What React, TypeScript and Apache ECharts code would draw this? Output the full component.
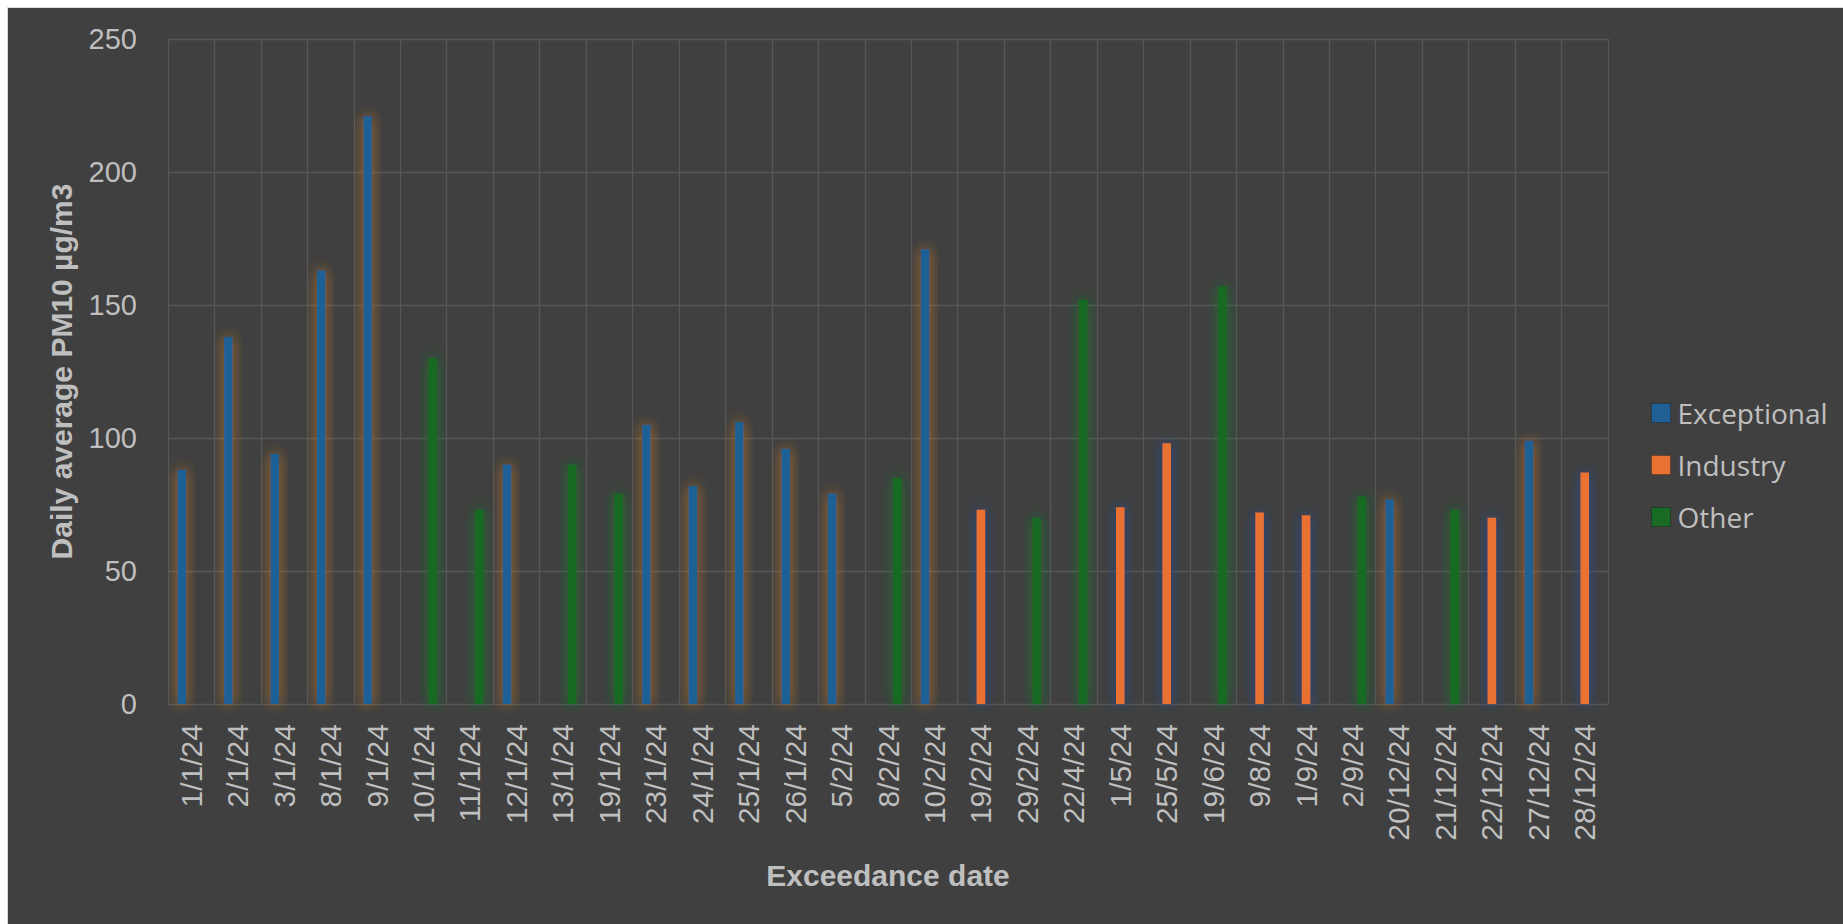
import React, { useEffect, useRef } from "react";
import * as echarts from "echarts";

const categories = [
  "1/1/24", "2/1/24", "3/1/24", "8/1/24", "9/1/24", "10/1/24", "11/1/24", "12/1/24",
  "13/1/24", "19/1/24", "23/1/24", "24/1/24", "25/1/24", "26/1/24", "5/2/24", "8/2/24",
  "10/2/24", "19/2/24", "29/2/24", "22/4/24", "1/5/24", "25/5/24", "19/6/24", "9/8/24",
  "1/9/24", "2/9/24", "20/12/24", "21/12/24", "22/12/24", "27/12/24", "28/12/24",
];

const exceptional = [
  88, 138, 94, 163, 221, null, null, 90,
  null, null, 105, 82, 106, 96, 79, null,
  171, null, null, null, null, null, null, null,
  null, null, 77, null, null, 99, null,
];

const industry = [
  null, null, null, null, null, null, null, null,
  null, null, null, null, null, null, null, null,
  null, 73, null, null, 74, 98, null, 72,
  71, null, null, null, 70, null, 87,
];

const other = [
  null, null, null, null, null, 130, 73, null,
  90, 79, null, null, null, null, null, 85,
  null, null, 70, 152, null, null, 157, null,
  null, 78, null, 73, null, null, null,
];

const yTicks = { min: 0, max: 250, interval: 50 };

const TEXT = "#bfbfbf";
const GRID = "#575757";
const FONT = "'Liberation Sans', Arial, sans-serif";
const LEGEND_FONT = "'Open Sans', 'Liberation Sans', Arial, sans-serif";

export default function App() {
  const ref = useRef<HTMLDivElement>(null);

  useEffect(() => {
    if (!ref.current) return;
    const chart = echarts.init(ref.current, undefined, { renderer: "svg" });
    const mk = (name: string, data: (number | null)[], color: string, glow: string) => ({
      name,
      type: "bar",
      data,
      barWidth: 8.5,
      barGap: "10%",
      itemStyle: { color, shadowBlur: 14, shadowColor: glow },
    });
    chart.setOption({
      animation: false,
      backgroundColor: "#404040",
      textStyle: { fontFamily: FONT },
      grid: { left: 160, top: 31, right: 235, bottom: 220, containLabel: false },
      legend: {
        orient: "vertical",
        left: 1638,
        top: 386,
        itemWidth: 19,
        itemHeight: 19,
        itemGap: 24,
        icon: "rect",
        itemStyle: { shadowBlur: 0, borderColor: "rgba(0,0,0,0.25)", borderWidth: 1 },
        textStyle: { color: TEXT, fontSize: 28, fontFamily: LEGEND_FONT, padding: [0, 0, 0, 2] },
        data: ["Exceptional", "Industry", "Other"],
      },
      xAxis: {
        type: "category",
        data: categories,
        boundaryGap: true,
        name: "Exceedance date",
        nameLocation: "middle",
        nameGap: 156,
        nameTextStyle: { color: TEXT, fontSize: 30, fontWeight: "bold", fontFamily: FONT },
        axisLine: { show: false },
        axisTick: { show: false },
        axisLabel: { rotate: 90, interval: 0, margin: 20, color: TEXT, fontSize: 30, fontFamily: FONT },
        splitLine: { show: true, interval: 0, lineStyle: { color: GRID, width: 1.3 } },
      },
      yAxis: {
        type: "value",
        min: yTicks.min,
        max: yTicks.max,
        interval: yTicks.interval,
        name: "Daily average PM10 µg/m3",
        nameLocation: "middle",
        nameGap: 92,
        nameTextStyle: { color: TEXT, fontSize: 30, fontWeight: "bold", fontFamily: FONT },
        axisLine: { show: false },
        axisTick: { show: false },
        axisLabel: { margin: 31, color: TEXT, fontSize: 29, fontFamily: FONT },
        splitLine: { show: true, lineStyle: { color: GRID, width: 1.3 } },
      },
      series: [
        mk("Exceptional", exceptional, "#1F6096", "rgba(200,120,40,0.85)"),
        mk("Industry", industry, "#E97132", "rgba(35,75,150,0.95)"),
        mk("Other", other, "#196B24", "rgba(25,120,40,0.9)"),
      ],
    });
    return () => chart.dispose();
  }, []);

  return (
    <div
      style={{
        position: "absolute",
        left: 7,
        top: 7,
        width: 1836,
        height: 917,
        background: "#404040",
        borderTop: "1px solid #d9d9d9",
        borderLeft: "1px solid #d9d9d9",
        boxSizing: "border-box",
        overflow: "hidden",
      }}
    >
      <div ref={ref} style={{ width: 1835, height: 916 }} />
    </div>
  );
}
